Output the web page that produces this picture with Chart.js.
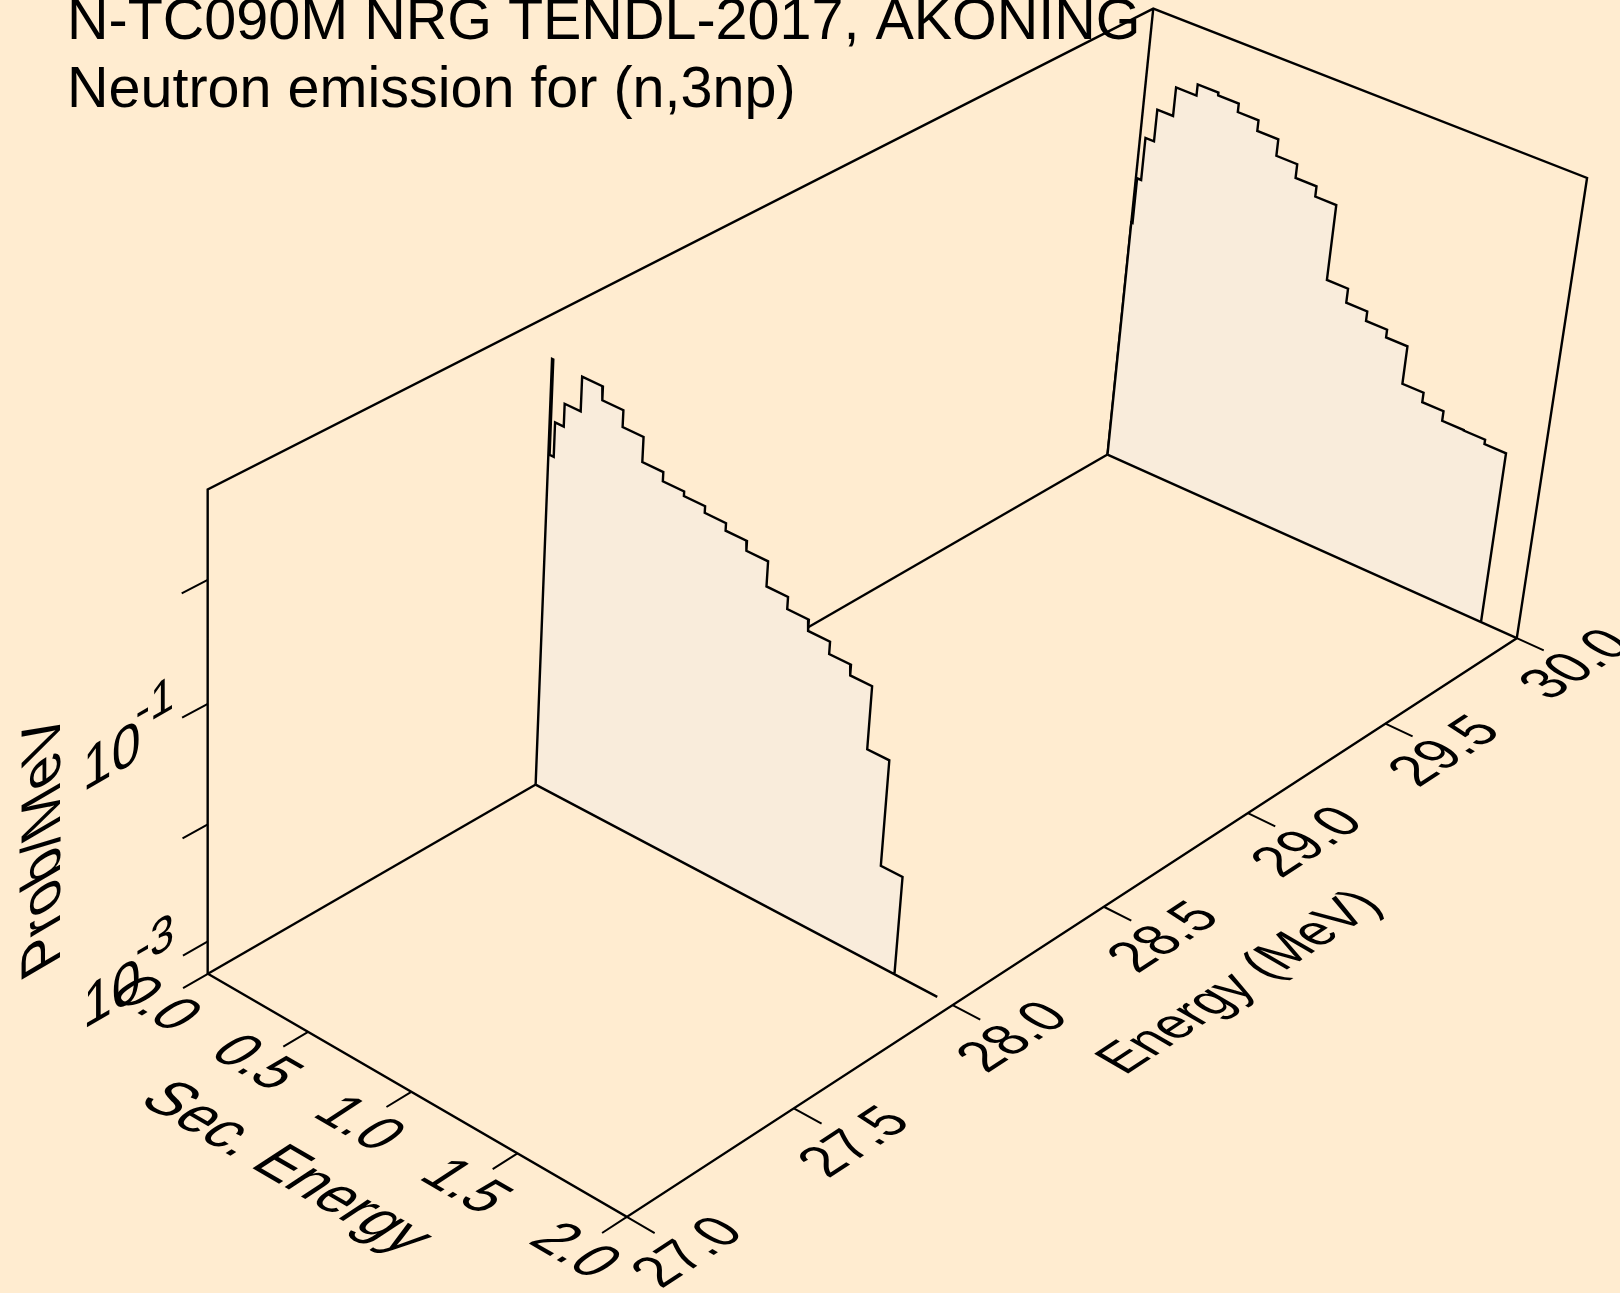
<!DOCTYPE html>
<html lang="en">
    <head>
        <script src="https://cdn.jsdelivr.net/npm/chart.js"></script>
        <style>
            body { margin: 0; background: #ffecd0; }
        </style>
    </head>
    <body>
        <canvas id="myChart" width="1620" height="1293"></canvas>
        <script>
            const titleLines = ["N-TC090M NRG TENDL-2017, AKONING", "Neutron emission for (n,3np)"]
            const secAxisTitle = "Sec. Energy"
            const energyAxisTitle = "Energy (MeV)"
            const probAxisTitle = "Prob/MeV"

            // axis ranges
            const secRange = [0, 2]
            const energyRange = [27, 30]
            const logProbRange = [-3.282, 0.711]

            const secTicks = [0, 0.5, 1, 1.5, 2]
            const secTickLabels = ["0.0", "0.5", "1.0", "1.5", "2.0"]
            const energyTicks = [27, 27.5, 28, 28.5, 29, 29.5, 30]
            const energyTickLabels = ["27.0", "27.5", "28.0", "28.5", "29.0", "29.5", "30.0"]
            const probTicks = [0.001, 0.01, 0.1, 1]
            const probTickExponents = ["-3", "", "-1", ""]

            // bin edges of the outgoing neutron spectrum
            const secEdges = [0, 0.006, 0.026, 0.068, 0.145, 0.244, 0.344, 0.443, 0.542, 0.642, 0.741, 0.84, 0.939, 1.039, 1.138, 1.237, 1.337, 1.436, 1.535, 1.635, 1.734, 1.833]

            const energyA = 28
            const probA = [2.21, 0.366, 0.703, 1.081, 2.07, 1.6, 1.17, 0.731, 0.615, 0.564, 0.498, 0.432, 0.359, 0.224, 0.178, 0.144, 0.114, 0.0931, 0.028, 0.00361]
            const secEndA = 1.93

            const energyB = 30
            const probB = [0.0701, 0.175, 0.41, 0.776, 1.37, 1.71, 1.62, 1.37, 1.11, 0.802, 0.611, 0.5, 0.112, 0.0845, 0.0697, 0.0597, 0.028, 0.0231, 0.019, 0.0188, 0.0172]
            const secEndB = 2

            // box corners on the page, the camera is fitted to these
            const boxCorners = [
                [0, 0, 0, 207.7, 973.5],
                [1, 0, 0, 627, 1217],
                [1, 1, 0, 1516.7, 638.3],
                [0, 1, 0, 1107.6, 454.6],
                [0, 0, 1, 207.7, 489.7],
                [0, 1, 1, 1153.3, 8.7],
                [1, 1, 1, 1587, 177.7],
            ]

            function solveCamera() {
                // least squares for x = (a s + b e + c z + d) / (i s + j e + k z + 1), same for y
                const rows = []
                boxCorners.forEach(([s, e, z, px, py]) => {
                    rows.push([s, e, z, 1, 0, 0, 0, 0, -px * s, -px * e, -px * z, px])
                    rows.push([0, 0, 0, 0, s, e, z, 1, -py * s, -py * e, -py * z, py])
                })
                const n = 11
                const m = []
                for (let i = 0; i < n; i++) {
                    m.push([])
                    for (let j = 0; j <= n; j++) {
                        let sum = 0
                        rows.forEach((r) => (sum += r[i] * r[j]))
                        m[i].push(sum)
                    }
                }
                for (let i = 0; i < n; i++) {
                    let best = i
                    for (let r = i + 1; r < n; r++) if (Math.abs(m[r][i]) > Math.abs(m[best][i])) best = r
                    ;[m[i], m[best]] = [m[best], m[i]]
                    for (let r = 0; r < n; r++) {
                        if (r === i) continue
                        const f = m[r][i] / m[i][i]
                        for (let c = i; c <= n; c++) m[r][c] -= f * m[i][c]
                    }
                }
                return m.map((row, i) => row[n] / row[i])
            }
            const cam = solveCamera()

            function project(sec, energy, prob) {
                const s = (sec - secRange[0]) / (secRange[1] - secRange[0])
                const e = (energy - energyRange[0]) / (energyRange[1] - energyRange[0])
                const z = (Math.log10(prob) - logProbRange[0]) / (logProbRange[1] - logProbRange[0])
                const w = cam[8] * s + cam[9] * e + cam[10] * z + 1
                return {
                    x: (cam[0] * s + cam[1] * e + cam[2] * z + cam[3]) / w,
                    y: (cam[4] * s + cam[5] * e + cam[6] * z + cam[7]) / w,
                }
            }

            const probFloor = Math.pow(10, logProbRange[0])
            const probTop = Math.pow(10, logProbRange[1])

            function spectrum(energy, probs, secEnd) {
                const pts = [project(0, energy, probFloor)]
                probs.forEach((p, i) => {
                    pts.push(project(secEdges[i], energy, p))
                    pts.push(project(secEdges[i + 1], energy, p))
                })
                pts.push(project(secEdges[probs.length], energy, probFloor))
                pts.push(project(secEnd, energy, probFloor))
                pts.push(project(0, energy, probFloor))
                return pts
            }

            const lineColor = "#000000"
            const fillColor = "#f9ecdb"
            const bgColor = "#ffecd0"

            function lineSet(data, order, width) {
                return {
                    data: data,
                    showLine: true,
                    pointRadius: 0,
                    borderColor: lineColor,
                    borderWidth: width || 2.4,
                    borderJoinStyle: "miter",
                    order: order,
                }
            }

            function curveSet(energy, probs, secEnd, order) {
                const set = lineSet(spectrum(energy, probs, secEnd), order)
                set.fill = "shape"
                set.backgroundColor = fillColor
                return set
            }

            // tick marks, broken up with NaN
            const gap = { x: NaN, y: NaN }
            const tickPoints = []
            secTicks.forEach((t) => {
                tickPoints.push(project(t, 27, probFloor), project(t, 26.928, probFloor), gap)
            })
            energyTicks.forEach((t) => {
                tickPoints.push(project(2, t, probFloor), project(2.125, t, probFloor), gap)
            })
            probTicks.forEach((t) => {
                tickPoints.push(project(0, 27, t), project(0, 26.928, t), gap)
            })

            const sMin = secRange[0], sMax = secRange[1], eMin = energyRange[0], eMax = energyRange[1]
            const datasets = [
                // back walls and floor, the spectra paint over them
                lineSet([project(sMin, eMin, probFloor), project(sMin, eMax, probFloor)], 5),
                lineSet([project(sMin, eMin, probFloor), project(sMin, eMin, probTop), project(sMin, eMax, probTop), project(sMax, eMax, probTop), project(sMax, eMax, probFloor)], 5),
                lineSet([project(sMin, eMax, probFloor), project(sMin, eMax, probTop)], 5),
                curveSet(energyA, probA, secEndA, 3),
                curveSet(energyB, probB, secEndB, 3),
                lineSet([project(sMin, eMin, probFloor), project(sMax, eMin, probFloor), project(sMax, eMax, probFloor)], 1),
                lineSet(tickPoints, 1, 2),
            ]

            function skewText(ctx, text, x, y, base, up, em) {
                ctx.save()
                ctx.transform(base[0], base[1], -up[0], -up[1], x, y)
                ctx.font = em + 'px "Liberation Sans"'
                ctx.textAlign = "center"
                ctx.textBaseline = "middle"
                ctx.fillText(text, 0, 0)
                ctx.restore()
            }

            const textPlugin = {
                id: "boxText",
                beforeDraw(chart) {
                    const ctx = chart.ctx
                    ctx.save()
                    ctx.fillStyle = bgColor
                    ctx.fillRect(0, 0, chart.width, chart.height)
                    ctx.restore()
                },
                afterDatasetsDraw(chart) {
                    const ctx = chart.ctx
                    const xs = chart.scales.x
                    const ys = chart.scales.y
                    const px = (p) => [xs.getPixelForValue(p.x), ys.getPixelForValue(p.y)]
                    ctx.save()
                    ctx.fillStyle = lineColor

                    ctx.font = '57.5px "Liberation Sans"'
                    ctx.textAlign = "left"
                    ctx.textBaseline = "alphabetic"
                    ctx.fillText(titleLines[0], xs.getPixelForValue(67), ys.getPixelForValue(38.5))
                    ctx.fillText(titleLines[1], xs.getPixelForValue(67), ys.getPixelForValue(107))

                    const secDir = [0.866, 0.5]
                    const energyDir = [0.84, -0.55]
                    const backDir = [-0.86, -0.5]
                    // floor text comes out taller than it is wide
                    const tall = (v) => [v[0] * 1.15, v[1] * 1.15]

                    secTicks.forEach((t, i) => {
                        const [x, y] = px(project(t, 26.845, probFloor))
                        skewText(ctx, secTickLabels[i], x, y, secDir, tall(energyDir), 54)
                    })
                    energyTicks.forEach((t, i) => {
                        const [x, y] = px(project(2.28, t, probFloor))
                        skewText(ctx, energyTickLabels[i], x, y, energyDir, tall(backDir), 52)
                    })
                    probTicks.forEach((t, i) => {
                        if (!probTickExponents[i]) return
                        const [x, y] = px(project(0, 27, t))
                        const wallDir = [0.866, -0.5]
                        skewText(ctx, "10", x - 96, y + 55, wallDir, [0, -1], 60)
                        skewText(ctx, probTickExponents[i], x - 53, y + 1, wallDir, [0, -1], 50)
                    })

                    let [x, y] = px(project(1, 26.64, probFloor))
                    skewText(ctx, secAxisTitle, x, y, secDir, tall(energyDir), 56.5)
                    ;[x, y] = px(project(2.64, 28.48, probFloor))
                    skewText(ctx, energyAxisTitle, x, y, energyDir, tall(backDir), 50)
                    ;[x, y] = px(project(0, 26.547, 0.038))
                    skewText(ctx, probAxisTitle, x, y, [0, -1], [-0.98, 0.57], 57)
                    ctx.restore()
                },
            }

            new Chart(document.getElementById("myChart"), {
                type: "scatter",
                data: { datasets: datasets },
                options: {
                    responsive: false,
                    animation: false,
                    layout: { padding: 0 },
                    plugins: { legend: { display: false }, tooltip: { enabled: false } },
                    scales: {
                        x: { type: "linear", display: false, min: 0, max: 1620 },
                        y: { type: "linear", display: false, min: 0, max: 1293, reverse: true },
                    },
                },
                plugins: [textPlugin],
            })
        </script>
    </body>
</html>
